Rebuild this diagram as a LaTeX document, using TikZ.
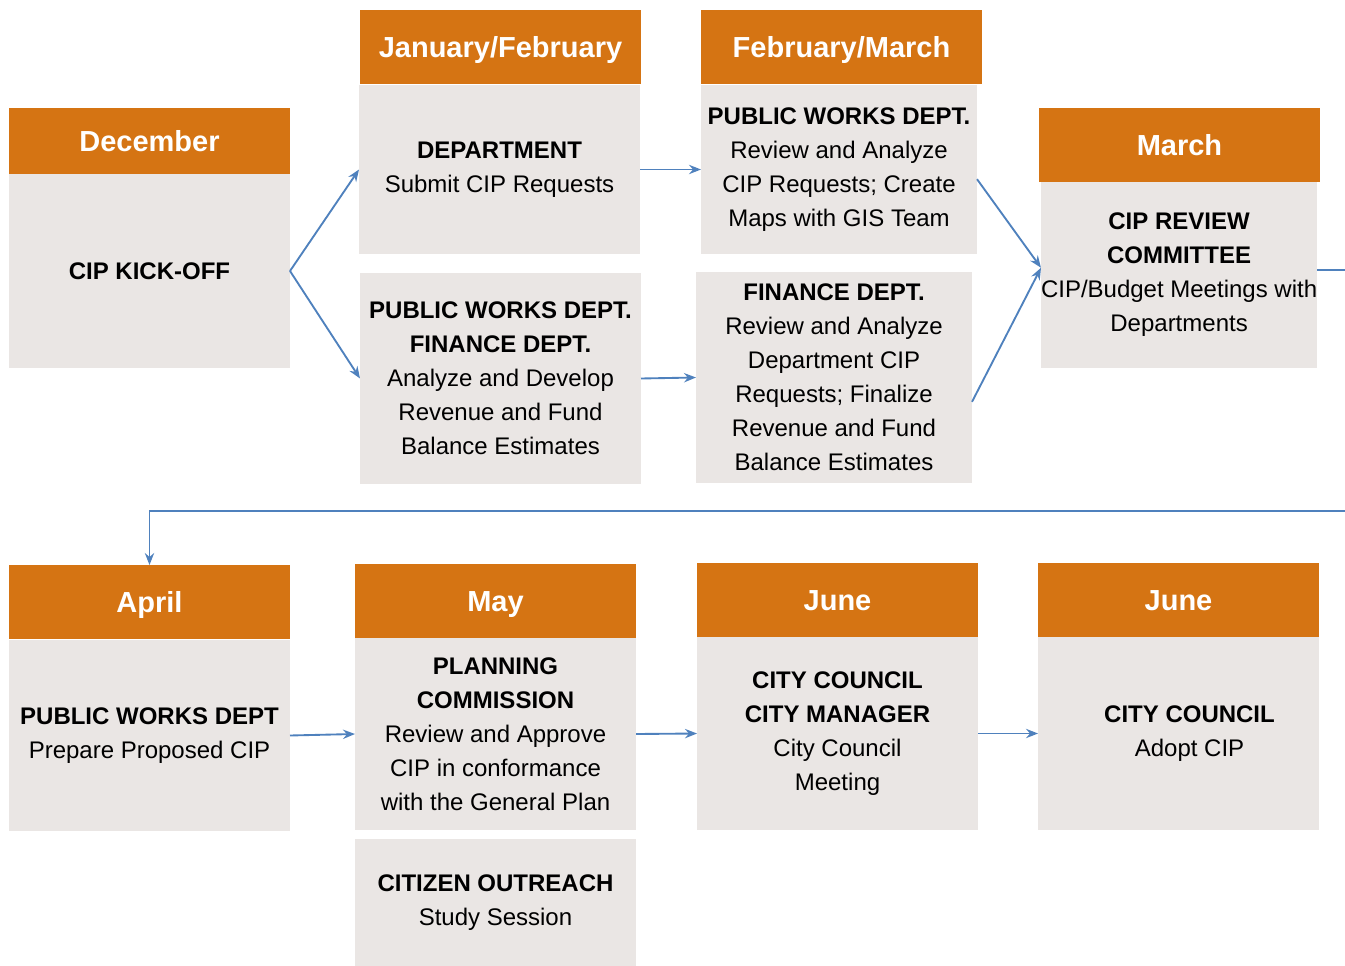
\documentclass[tikz,border=0pt]{standalone}
\usepackage{fontspec}
\setmainfont{Liberation Sans}
\usetikzlibrary{arrows.meta}
\definecolor{cipOrange}{RGB}{213,116,19}
\definecolor{cipGray}{RGB}{234,230,228}
\definecolor{cipBlue}{RGB}{79,129,189}
\tikzset{
	month/.style={anchor=north west, fill=cipOrange, text=white, inner sep=0pt, outer sep=0pt, minimum width=210.75pt, minimum height=55.5pt, text height=15.6pt, text depth=0pt, font=\fontsize{21.75}{26}\selectfont\bfseries},
	task/.style={anchor=north west, fill=cipGray, inner sep=0pt, outer sep=0pt, minimum width=210.75pt, align=center, font=\fontsize{18}{25.5}\selectfont},
	flow/.style={draw=cipBlue, line width=1.4pt, -{Stealth[length=9pt,width=7pt,inset=3pt]}}
}
\begin{document}
\begin{tikzpicture}[x=0.75pt,y=-0.75pt]
	\useasboundingbox (0,0) rectangle (1345,966);
	\node[month, minimum height=49.5pt] (dech) at (9,108) {December};
	\node[task, minimum height=145.5pt] (decb) at (9,174) {\textbf{CIP KICK-OFF}};
	\node[month] (jfh) at (360,10) {January/February};
	\node[task, minimum height=126.75pt] (jfb) at (359,85) {\textbf{DEPARTMENT}\\Submit CIP Requests};
	\node[task, minimum height=158.25pt] (pwf) at (360,273) {\textbf{PUBLIC WORKS DEPT.}\\\textbf{FINANCE DEPT.}\\Analyze and Develop\\Revenue and Fund\\Balance Estimates};
	\node[month] (fmh) at (701,10) {February/March};
	\node[task, minimum width=207pt, minimum height=126.75pt] (fmb) at (701,85) {\textbf{PUBLIC WORKS DEPT.}\\Review and Analyze\\CIP Requests; Create\\Maps with GIS Team};
	\node[task, minimum width=207pt, minimum height=158.25pt] (fin) at (696,272) {\textbf{FINANCE DEPT.}\\Review and Analyze\\Department CIP\\Requests; Finalize\\Revenue and Fund\\Balance Estimates};
	\node[month] (mah) at (1039,108) {March};
	\node[task, minimum width=207pt, minimum height=139.5pt] (mab) at (1041,182) {\textbf{CIP REVIEW}\\\textbf{COMMITTEE}\\CIP/Budget Meetings with\\Departments};
	\node[month] (aph) at (9,565) {April};
	\node[task, minimum height=143.25pt] (apb) at (9,640) {\textbf{PUBLIC WORKS DEPT}\\Prepare Proposed CIP};
	\node[month] (myh) at (355,564) {May};
	\node[task, minimum height=144pt] (myb) at (355,638) {\textbf{PLANNING}\\\textbf{COMMISSION}\\Review and Approve\\CIP in conformance\\with the General Plan};
	\node[task, minimum height=95.25pt] (cit) at (355,839) {\textbf{CITIZEN OUTREACH}\\Study Session};
	\node[month] (jnh) at (697,563) {June};
	\node[task, minimum height=144.75pt] (jnb) at (697,637) {\textbf{CITY COUNCIL}\\\textbf{CITY MANAGER}\\City Council\\Meeting};
	\node[month] (jah) at (1038,563) {June};
	\node[task, minimum height=144.75pt] (jab) at (1038,637) {\hspace*{16.5pt}\textbf{CITY COUNCIL}\\\hspace*{16.5pt}Adopt CIP};
	\coordinate (turn) at (1347,511);
	\draw[flow] (decb.east) -- (jfb.west);
	\draw[flow] (decb.east) -- (pwf.west);
	\draw[flow] (jfb.east) -- (fmb.west);
	\draw[flow] (pwf.east) -- (fin.west);
	\draw[flow] (fmb.-4) -- (mab.177);
	\draw[flow] (fin.-10) -- (mab.177);
	\draw[flow] (mab.2) -| (turn) -| (aph.north);
	\draw[flow] (apb.east) -- (myb.west);
	\draw[flow] (myb.east) -- (jnb.west);
	\draw[flow] (jnb.east) -- (jab.west);
\end{tikzpicture}
\end{document}
